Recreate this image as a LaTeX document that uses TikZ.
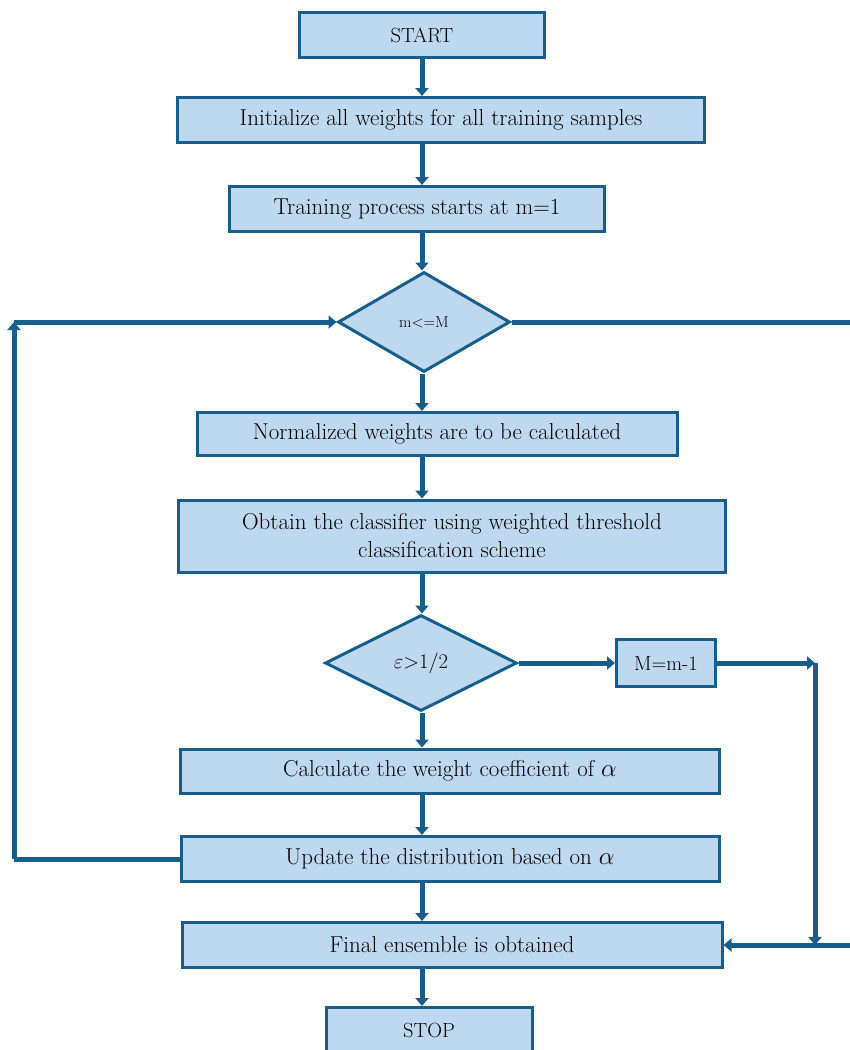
\documentclass[tikz,border=0pt]{standalone}
\usetikzlibrary{shapes.geometric,arrows.meta}
\definecolor{flowline}{RGB}{24,94,141}
\definecolor{flowfill}{RGB}{190,216,240}
\begin{document}
\begin{tikzpicture}[x=1pt,y=-1pt,font=\fontsize{23}{28}\selectfont,
  blk/.style={draw=flowline,fill=flowfill,line width=3pt,minimum height=45pt,inner sep=0pt,align=center},
  tag/.style={font=\fontsize{20.5}{24}\selectfont},
  dec/.style={draw=flowline,fill=flowfill,line width=3pt,diamond,inner sep=0pt},
  conn/.style={draw=flowline,line width=5pt,-{Triangle[length=8pt,width=13pt]}},
  wire/.style={draw=flowline,line width=5pt}]
\useasboundingbox (0,0) rectangle (850,1050);
\coordinate (spine) at (422,0);
\coordinate (lft) at (14,0);
\coordinate (rgt) at (815,0);
\coordinate (rim) at (860,0);
\node[blk,tag,minimum width=245pt] (start) at (422,35) {START};
\node[blk,minimum width=527pt] (init) at (441,120) {Initialize all weights for all training samples};
\node[blk,minimum width=375pt] (train) at (417,209) {Training process starts at m=1};
\node[dec,minimum width=172pt,minimum height=100pt,font=\fontsize{16}{20}\selectfont] (chk) at (424,322) {m<=M};
\node[blk,minimum width=480pt,minimum height=43pt] (norm) at (437,434) {Normalized weights are to be calculated};
\node[blk,minimum width=547pt,minimum height=72pt] (obt) at (452,536) {Obtain the classifier using weighted threshold\\classification scheme};
\node[dec,minimum width=192pt,minimum height=96pt,tag] (err) at (421,663) {$\varepsilon{>}1/2$};
\node[blk,tag,minimum width=99pt,minimum height=47pt] (dec) at (666,663) {M=m-1};
\node[blk,minimum width=539pt,minimum height=44pt] (calc) at (450,771) {Calculate the weight coefficient of $\alpha$};
\node[blk,minimum width=538pt] (upd) at (450,859) {Update the distribution based on $\alpha$};
\node[blk,minimum width=540pt] (fin) at (452,945) {Final ensemble is obtained};
\node[blk,tag,minimum width=206pt] (stop) at (429,1030) {STOP};
\foreach \a/\b in {start/init,init/train,train/chk,chk/norm,norm/obt,obt/err,err/calc,calc/upd,upd/fin,fin/stop}
  \draw[conn] (\a.south -| spine) -- (\b.north -| spine);
\draw[wire] (upd.west) -- (upd.west -| lft);
\draw[conn] (upd.west -| lft) -- (chk.west -| lft);
\draw[conn] (chk.west -| lft) -- (chk.west);
\draw[wire] (chk.east) -- (chk.east -| rim);
\draw[conn] (err.east) -- (dec.west);
\draw[conn] (dec.east) -- (dec.east -| rgt);
\draw[conn] (dec.east -| rgt) -- (fin.east -| rgt);
\draw[conn] (fin.east -| rim) -- (fin.east);
\end{tikzpicture}
\end{document}
